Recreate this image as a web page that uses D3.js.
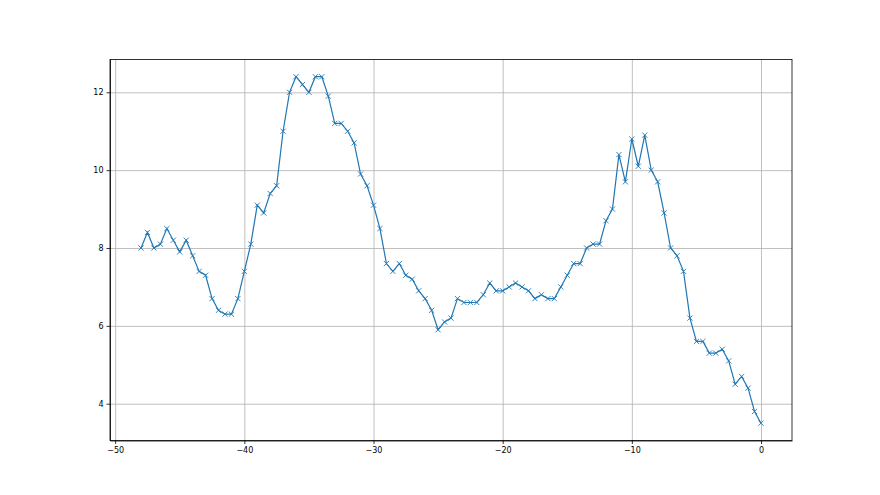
<!DOCTYPE html>
<html>
<head>
<meta charset="utf-8">
<script src="https://cdn.jsdelivr.net/npm/d3@7"></script>
<style>
  body { margin: 0; background: #fff; }
  .axis text { font-family: "DejaVu Sans", sans-serif; font-size: 8px; fill: #000; }
  .axis path, .axis line { stroke: #000; stroke-width: 0.8; }
  .grid line { stroke: #b0b0b0; stroke-width: 0.8; }
  .grid path { display: none; }
</style>
</head>
<body>
<div class="chart"></div>
<script>
// values sampled every half step from -48 to 0
var xs = d3.range(-48, 0.01, 0.5);
var values = [8.0, 8.4, 8.0, 8.1, 8.5, 8.2, 7.9, 8.2, 7.8, 7.4,
              7.3, 6.7, 6.4, 6.3, 6.3, 6.7, 7.4, 8.1, 9.1, 8.9,
              9.4, 9.6, 11.0, 12.0, 12.4, 12.2, 12.0, 12.4, 12.4, 11.9,
              11.2, 11.2, 11.0, 10.7, 9.9, 9.6, 9.1, 8.5, 7.6, 7.4,
              7.6, 7.3, 7.2, 6.9, 6.7, 6.4, 5.9, 6.1, 6.2, 6.7,
              6.6, 6.6, 6.6, 6.8, 7.1, 6.9, 6.9, 7.0, 7.1, 7.0,
              6.9, 6.7, 6.8, 6.7, 6.7, 7.0, 7.3, 7.6, 7.6, 8.0,
              8.1, 8.1, 8.7, 9.0, 10.4, 9.7, 10.8, 10.1, 10.9, 10.0,
              9.7, 8.9, 8.0, 7.8, 7.4, 6.2, 5.6, 5.6, 5.3, 5.3,
              5.4, 5.1, 4.5, 4.7, 4.4, 3.8, 3.5];
var xTicks = [-50, -40, -30, -20, -10, 0];
var yTicks = [4, 6, 8, 10, 12];

var data = xs.map(function(x, i) { return {x: x, y: values[i]}; });

var margin = {top: 59.4, right: 88, bottom: 54.5, left: 110},
    width = 880 - margin.left - margin.right,
    height = 495 - margin.top - margin.bottom;

var svg = d3.select(".chart").append("svg")
    .attr("width", 880)
    .attr("height", 495);

var g = svg.append("g")
    .attr("transform", "translate(" + margin.left + "," + margin.top + ")");

// matplotlib style 5% padding
var xExt = d3.extent(xs), yExt = d3.extent(values);
var xPad = (xExt[1] - xExt[0]) * 0.05, yPad = (yExt[1] - yExt[0]) * 0.05;
var x = d3.scaleLinear().domain([xExt[0] - xPad, xExt[1] + xPad]).range([0, width]);
var y = d3.scaleLinear().domain([yExt[0] - yPad, yExt[1] + yPad]).range([height, 0]);

g.append("g")
    .attr("class", "grid")
    .attr("transform", "translate(0," + height + ")")
    .call(d3.axisBottom(x).tickValues(xTicks).tickSize(-height).tickFormat(""));
g.append("g")
    .attr("class", "grid")
    .call(d3.axisLeft(y).tickValues(yTicks).tickSize(-width).tickFormat(""));

var line = d3.line().x(function(d) { return x(d.x); }).y(function(d) { return y(d.y); });

g.append("path")
    .datum(data)
    .attr("fill", "none")
    .attr("stroke", "#1f77b4")
    .attr("stroke-width", 1.2)
    .attr("d", line);

var s = 2.6;
g.selectAll(".mk")
    .data(data)
  .enter().append("path")
    .attr("class", "mk")
    .attr("d", function(d) {
      var cx = x(d.x), cy = y(d.y);
      return "M" + (cx - s) + "," + (cy - s) + "L" + (cx + s) + "," + (cy + s) +
             "M" + (cx - s) + "," + (cy + s) + "L" + (cx + s) + "," + (cy - s);
    })
    .attr("stroke", "#1f77b4")
    .attr("stroke-width", 0.9)
    .attr("fill", "none");

g.append("g")
    .attr("class", "x axis")
    .attr("transform", "translate(0," + height + ")")
    .call(d3.axisBottom(x).tickValues(xTicks).tickSize(3.5).tickPadding(3).tickSizeOuter(0));
g.append("g")
    .attr("class", "y axis")
    .call(d3.axisLeft(y).tickValues(yTicks).tickSize(3.5).tickPadding(3).tickSizeOuter(0));

// frame
g.append("rect")
    .attr("width", width).attr("height", height)
    .attr("fill", "none").attr("stroke", "#000").attr("stroke-width", 0.8);
</script>
</body>
</html>
